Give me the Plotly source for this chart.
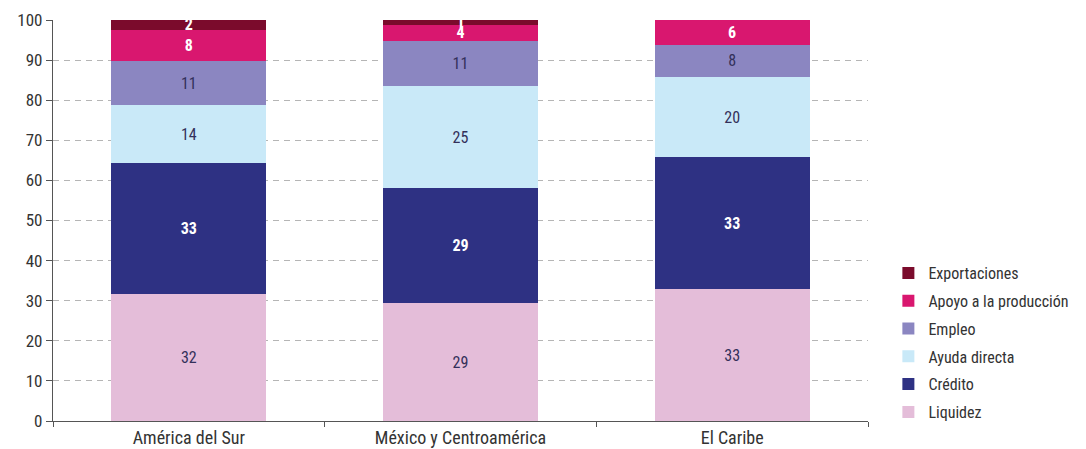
import plotly.graph_objects as go

categories = ["América del Sur", "México y Centroamérica", "El Caribe"]
series_names = ["Liquidez", "Crédito", "Ayuda directa", "Empleo", "Apoyo a la producción", "Exportaciones"]
liquidez = [31.7, 29.4, 32.9]
credito = [32.6, 28.7, 32.9]
ayuda_directa = [14.4, 25.4, 20.0]
empleo = [11.1, 11.3, 8.0]
apoyo_produccion = [7.8, 4.0, 6.2]
exportaciones = [2.4, 1.2, 0.0]
y_ticks = [0, 10, 20, 30, 40, 50, 60, 70, 80, 90, 100]

values = [liquidez, credito, ayuda_directa, empleo, apoyo_produccion, exportaciones]
colors = ["#e4bdd9", "#2e3183", "#c9e9f8", "#8b86c1", "#d9176f", "#7b0b2c"]
text_colors = ["#33305a", "#ffffff", "#33305a", "#33305a", "#ffffff", "#ffffff"]
bold = [False, True, False, False, True, True]

FONT = "Roboto Condensed, Liberation Sans Narrow, Roboto, sans-serif"

fig = go.Figure()
n = len(series_names)
for i, (name, vals, col, tcol, b) in enumerate(zip(series_names, values, colors, text_colors, bold)):
    texts = [("<b>%d</b>" if b else "%d") % round(v) if v > 0 else "" for v in vals]
    fig.add_trace(go.Bar(
        x=categories, y=vals, name=name, legendgroup=name, legendrank=n - i,
        marker=dict(color=col, line=dict(width=0)),
        text=texts, textposition="inside", insidetextanchor="middle", textangle=0,
        textfont=dict(color=tcol, size=16, family=FONT),
        hoverinfo="skip",
    ))

fig.update_layout(
    barmode="stack",
    bargap=0.43,
    width=1086, height=449,
    margin=dict(l=53, r=218, t=20, b=28),
    plot_bgcolor="white", paper_bgcolor="white",
    font=dict(family=FONT, size=17, color="#333333"),
    uniformtext=dict(minsize=16, mode="show"),
    showlegend=True,
    legend=dict(
        x=1.025, xanchor="left", y=-0.02, yanchor="bottom",
        traceorder="grouped", tracegroupgap=4,
        font=dict(size=16, color="#333333", family=FONT),
        bgcolor="rgba(0,0,0,0)",
    ),
    xaxis=dict(
        showline=True, linecolor="#555555", linewidth=1.2,
        ticks="outside", tickson="boundaries", ticklen=5, tickcolor="#555555",
        showgrid=False, automargin=False,
        tickfont=dict(size=18, color="#333333"),
    ),
    yaxis=dict(
        range=[0, 100], tickvals=y_ticks,
        showline=True, linecolor="#555555", linewidth=1.2,
        ticks="outside", ticklen=6, tickcolor="#555555",
        showgrid=True, gridcolor="#b5b5b5", gridwidth=1, griddash="6px,5px",
        zeroline=False, automargin=False,
        tickfont=dict(size=17, color="#333333"),
    ),
)

fig.write_html(
    "out.html",
    config={"displayModeBar": False},
    post_script="document.body.style.margin='0';document.body.style.overflow='hidden';",
)
